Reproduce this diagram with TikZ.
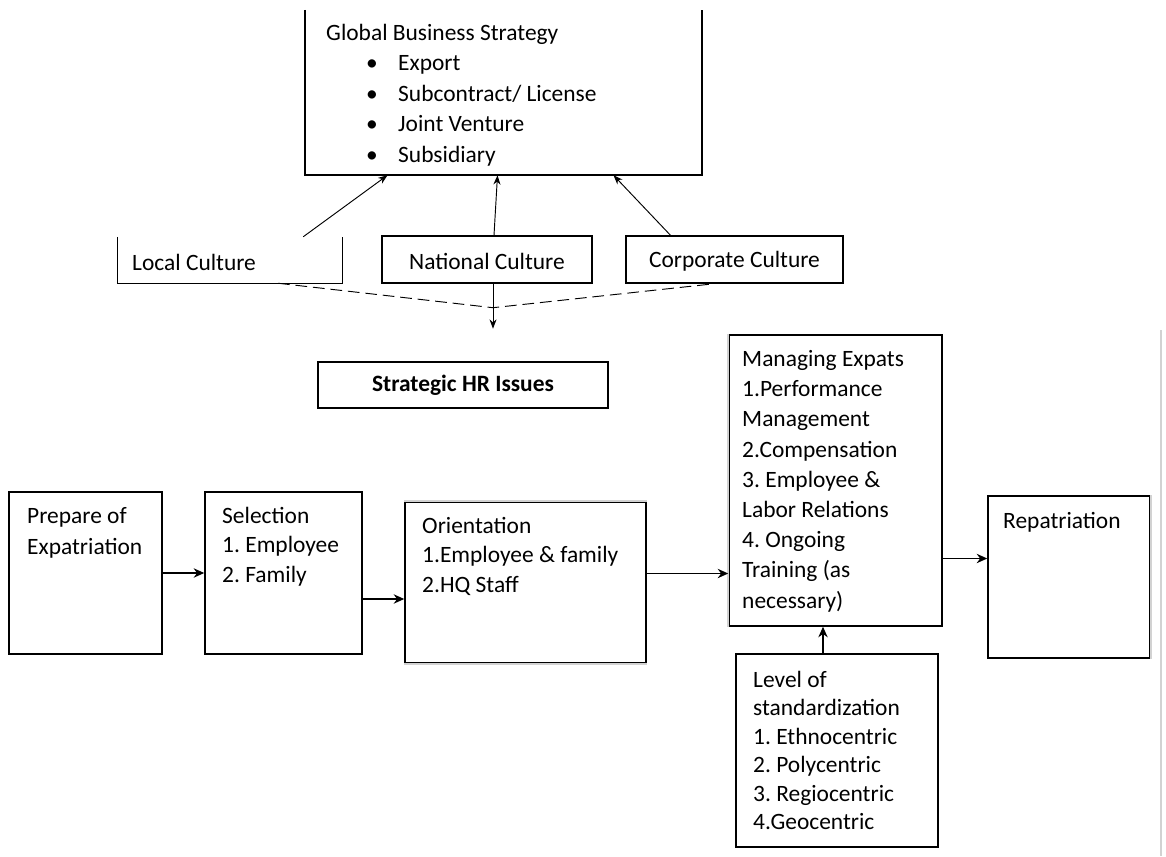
\documentclass[tikz,border=0pt]{standalone}
\usepackage{fontspec}
\setmainfont{Carlito}
\usetikzlibrary{positioning, arrows.meta, fit, calc}

\newcommand{\gbitem}[1]{\hspace*{1.2cm}\makebox[0.96cm][l]{\textbullet}#1}

\tikzset{
  stage/.style={draw, line width=1.3pt, inner sep=0pt},
  faint/.style={draw=gray!35, line width=1.6pt},
  txt/.style={anchor=north west, align=left, inner sep=0pt},
  flow/.style={-{Stealth[length=9pt, width=8pt]}, line width=1.3pt},
  thickflow/.style={flow, line width=2.2pt},
  thinflow/.style={-{Stealth[length=8pt, width=6pt]}, line width=0.8pt},
}

\begin{document}
\frenchspacing
\begin{tikzpicture}[x=0.03cm, y=-0.03cm, font=\fontsize{20}{25}\selectfont]
  \useasboundingbox[fill=white] (0,0) rectangle (1166,856);

  % strategy box, open at the top
  \node[inner sep=0pt, fit={(305,10) (702,175)}] (glob) {};
  \draw[line width=1.3pt] (glob.north west) -- (glob.south west) -- (glob.south east) -- (glob.north east);
  \node[txt, font=\fontsize{20}{26}\selectfont] (globtxt) at (326,24)
    {Global Business Strategy\\ \gbitem{Export}\\ \gbitem{Subcontract/ License}\\
     \gbitem{Joint Venture}\\ \gbitem{Subsidiary}};

  % cultures
  \node[inner sep=0pt, fit={(118,237) (342,283)}] (loc) {};
  \draw[line width=1.2pt] (loc.north west) -- (loc.south west) -- (loc.south east) -- (loc.north east);
  \node[anchor=west, inner sep=0pt] (loctxt) at (132,262) {Local Culture};
  \node[stage, line width=1.2pt, fit={(382,236) (592,283)}] (nat) {};
  \node (nattxt) at ($(nat)+(0,2)$) {National Culture};
  \node[stage, line width=1.2pt, fit={(626,236) (843,283)}] (cor) {};
  \node (cortxt) at ($(cor)+(0,2)$) {Corporate Culture};

  \draw[thinflow] ($(loc.north east)+(-39,0)$) -- ($(glob.south)+(-116,0)$);
  \draw[thinflow] ($(nat.north)+(7,0)$) -- ($(glob.south)+(-6,0)$);
  \draw[thinflow] ($(cor.north)+(-64,0)$) -- ($(glob.south)+(110,0)$);

  \coordinate (meet) at ($(nat.south)+(6,24)$);
  \coordinate (down) at ($(nat.south)+(6,45)$);
  \draw[line width=0.8pt, dash pattern=on 10pt off 5pt] ($(loc.south)+(48,0)$) -- (meet) -- ($(cor.south)+(-20,0)$);
  \draw[thinflow] ($(nat.south)+(6,0)$) -- (down);

  \node[stage, line width=1.2pt, fit={(318,362) (608,408)}] (hr) {};
  \node[font=\bfseries\fontsize{20}{25}\selectfont] (hrtxt) at (hr) {Strategic HR Issues};

  % expatriation cycle
  \node[stage, fit={(9,492) (162,654)}] (prep) {};
  \node[stage, fit={(205,492) (362,654)}] (sel) {};
  \node[stage, fit={(405,502) (646,663)}] (ori) {};
  \node[stage, fit={(729,335) (942,626)}] (man) {};
  \node[stage, fit={(988,496) (1150,658)}] (rep) {};
  \node[stage, fit={(736,654) (938,847)}] (lev) {};
  \draw[faint] (ori.north west) -- (ori.north east);
  \draw[faint] (ori.south west) -- (ori.south east);
  \draw[faint] (man.north west) -- (man.south west);
  \draw[faint] (rep.north east) -- (rep.south east);
  \draw[faint] (1161,330) -- (1161,856);

  \node[txt, font=\fontsize{20}{27}\selectfont] (preptxt) at (27,507) {Prepare of\\Expatriation};
  \node[txt] (seltxt) at (222,507) {Selection\\1. Employee\\2. Family};
  \node[txt] (oritxt) at (422,517) {Orientation\\1.Employee \& family\\2.HQ Staff};
  \node[txt, font=\fontsize{20}{25.8}\selectfont] (mantxt) at (742,350)
    {Managing Expats\\1.Performance\\Management\\2.Compensation\\3. Employee \&\\Labor Relations\\4. Ongoing\\Training (as\\necessary)};
  \node[txt] (reptxt) at (1003,512) {Repatriation};
  \node[txt, font=\fontsize{20}{24.3}\selectfont] (levtxt) at (753,671)
    {Level of\\standardization\\1. Ethnocentric\\2. Polycentric\\3. Regiocentric\\4.Geocentric};

  \coordinate (s2) at ($(sel.east)+(0,26)$);
  \coordinate (o2) at ($(ori.east)+(0,-9)$);
  \coordinate (m2) at ($(man.east)+(0,78)$);
  \coordinate (l2) at ($(lev.north)+(-14,0)$);
  \draw[thickflow] (prep) -- (sel);
  \draw[thickflow] (s2) -- (s2 -| ori.west);
  \draw[flow] (o2) -- (o2 -| man.west);
  \draw[flow] (m2) -- (m2 -| rep.west);
  \draw[flow] (l2) -- (l2 |- man.south);
\end{tikzpicture}
\end{document}
